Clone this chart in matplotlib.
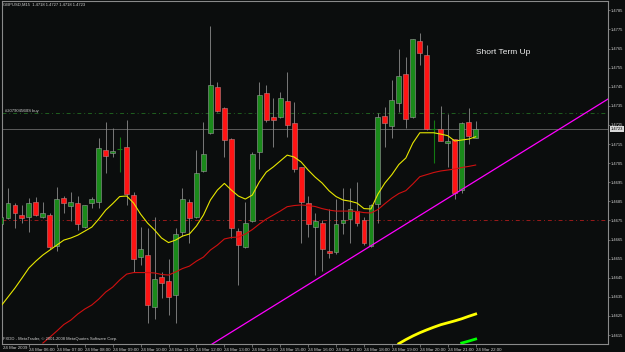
import matplotlib
matplotlib.use("Agg")
import matplotlib.pyplot as plt
import numpy as np

plt.rcParams["font.family"] = ["Liberation Sans", "DejaVu Sans"]

# GBPUSD M15, 24 Mar 2009, bars from 05:00 to 22:00
opens = [1.46731, 1.46761, 1.46831, 1.46778, 1.46769, 1.46848, 1.46766, 1.46778, 1.46616, 1.46869,
         1.46827, 1.46839, 1.46717, 1.46839, 1.46848, 1.47119, 1.47101, 1.47122, 1.47136, 1.46881,
         1.46560, 1.46569, 1.46298, 1.46454, 1.46433, 1.46359, 1.46688, 1.46848, 1.46769, 1.47007,
         1.47209, 1.47447, 1.47337, 1.47178, 1.46696, 1.46609, 1.46748, 1.47108, 1.47415, 1.47290,
         1.47290, 1.47377, 1.47258, 1.47028, 1.46839, 1.46717, 1.46738, 1.46591, 1.46586, 1.46738,
         1.46757, 1.46799, 1.46752, 1.46617, 1.46836, 1.47297, 1.47244, 1.47366, 1.47516, 1.47290,
         1.47691, 1.47616, 1.47229, 1.47227, 1.47157, 1.47175, 1.46909, 1.47267, 1.4718]
highs = [1.46789, 1.46918, 1.46839, 1.46831, 1.46866, 1.46871, 1.46848, 1.46789, 1.46926, 1.46878,
         1.46900, 1.46878, 1.46831, 1.46874, 1.47180, 1.47267, 1.47232, 1.47188, 1.47278, 1.46900,
         1.46717, 1.46709, 1.46769, 1.46481, 1.46546, 1.46709, 1.46918, 1.46860, 1.47119, 1.47267,
         1.47768, 1.47476, 1.47345, 1.47183, 1.46709, 1.46848, 1.47110, 1.47476, 1.47459, 1.47389,
         1.47424, 1.47527, 1.47368, 1.47031, 1.46878, 1.46787, 1.46752, 1.46808, 1.46860, 1.46918,
         1.46918, 1.46953, 1.46769, 1.46836, 1.47311, 1.47345, 1.47485, 1.47646, 1.47607, 1.47702,
         1.47730, 1.47668, 1.47278, 1.47349, 1.47307, 1.47176, 1.47265, 1.47337, 1.4727]
lows = [1.46721, 1.46757, 1.46709, 1.46738, 1.46691, 1.46773, 1.46762, 1.46599, 1.46591, 1.46790,
        1.46747, 1.46700, 1.46710, 1.46813, 1.46813, 1.47000, 1.47082, 1.47005, 1.46831, 1.46481,
        1.46516, 1.46211, 1.46234, 1.46342, 1.46255, 1.46211, 1.46668, 1.46630, 1.46762, 1.47003,
        1.47202, 1.47317, 1.47080, 1.46656, 1.46412, 1.46605, 1.46742, 1.47017, 1.47265, 1.47136,
        1.47286, 1.47188, 1.47003, 1.46630, 1.46663, 1.46464, 1.46487, 1.46551, 1.46574, 1.46679,
        1.46630, 1.46721, 1.46621, 1.46611, 1.46738, 1.47136, 1.47180, 1.47319, 1.47232, 1.47286,
        1.47564, 1.47223, 1.47049, 1.47166, 1.47031, 1.46860, 1.46892, 1.47150, 1.4718]
closes = [1.46768, 1.46839, 1.46787, 1.46761, 1.46839, 1.46778, 1.46790, 1.46609, 1.46860, 1.46839,
          1.46848, 1.46729, 1.46831, 1.46862, 1.47127, 1.47087, 1.47112, 1.47122, 1.46888, 1.46548,
          1.46599, 1.46307, 1.46442, 1.46421, 1.46350, 1.46679, 1.46860, 1.46761, 1.46997, 1.47098,
          1.47457, 1.47324, 1.47171, 1.46709, 1.46620, 1.46738, 1.47096, 1.47407, 1.47276, 1.47276,
          1.47389, 1.47248, 1.47017, 1.46848, 1.46731, 1.46748, 1.46599, 1.46578, 1.46731, 1.46752,
          1.46808, 1.46738, 1.46630, 1.46831, 1.47290, 1.47258, 1.47380, 1.47506, 1.47279, 1.47698,
          1.47625, 1.47227, 1.47229, 1.47167, 1.47166, 1.46895, 1.47258, 1.47192, 1.4723]

# moving averages as drawn on the chart
ma_fast = [1.46302, 1.46349, 1.46396, 1.46448, 1.46501, 1.46537, 1.46569, 1.46595, 1.46621, 1.46647,
           1.46658, 1.46673, 1.46694, 1.46715, 1.46757, 1.46804, 1.46838, 1.46875, 1.46878, 1.46841,
           1.46783, 1.46736, 1.46700, 1.46658, 1.46634, 1.46647, 1.46668, 1.46679, 1.46721, 1.46778,
           1.46857, 1.46909, 1.46944, 1.46909, 1.46878, 1.46862, 1.46883, 1.46951, 1.47003, 1.47030,
           1.47061, 1.47092, 1.47082, 1.47056, 1.47014, 1.46977, 1.46946, 1.46905, 1.46875, 1.46857,
           1.46851, 1.46841, 1.46812, 1.46810, 1.46888, 1.46946, 1.46990, 1.47043, 1.47077, 1.47155,
           1.47209, 1.47209, 1.47209, 1.47202, 1.47194, 1.47166, 1.47171, 1.47176, 1.47188]
ma_slow_start = 6
ma_slow = [1.46108, 1.46139, 1.46171, 1.46205, 1.46228, 1.46260, 1.46286, 1.46307, 1.46338, 1.46375,
           1.46401, 1.46438, 1.46469, 1.46477, 1.46477, 1.46477, 1.46475, 1.46467, 1.46464, 1.46480,
           1.46498, 1.46511, 1.46537, 1.46558, 1.46595, 1.46621, 1.46653, 1.46661, 1.46663, 1.46679,
           1.46702, 1.46731, 1.46757, 1.46778, 1.46799, 1.46822, 1.46828, 1.46831, 1.46828, 1.46823,
           1.46812, 1.46804, 1.46799, 1.46799, 1.46799, 1.46797, 1.46791, 1.46789, 1.46807, 1.46838,
           1.46867, 1.46891, 1.46906, 1.46941, 1.46979, 1.46990, 1.47001, 1.47009, 1.47014, 1.47019,
           1.47027, 1.47033, 1.47040]
ma_long_start = 57
ma_long = [1.46105, 1.46126, 1.46145, 1.46162, 1.46177, 1.46191, 1.46204, 1.46214, 1.46224, 1.46235,
           1.46248, 1.46260]
ma_green_start = 66
ma_green = [1.46108, 1.46118, 1.46129]

trend_bars = [31, 65]
trend_prices = [1.46120, 1.46889]
order_price = 1.4731
stop_price = 1.4675
bid_price = 1.4723

price_ticks = [1.4785, 1.4775, 1.4765, 1.4755, 1.4745, 1.4735, 1.4725, 1.4715, 1.4705,
               1.4695, 1.4685, 1.4675, 1.4665, 1.4655, 1.4645, 1.4635, 1.4625, 1.4615]
time_ticks = [0, 4, 8, 12, 16, 20, 24, 28, 32, 36, 40, 44, 48, 52, 56, 60, 64, 68]
time_labels = ["24 Mar 2009", "24 Mar 06:00", "24 Mar 07:00", "24 Mar 08:00", "24 Mar 09:00",
               "24 Mar 10:00", "24 Mar 11:00", "24 Mar 12:00", "24 Mar 13:00", "24 Mar 14:00",
               "24 Mar 15:00", "24 Mar 16:00", "24 Mar 17:00", "24 Mar 18:00", "24 Mar 19:00",
               "24 Mar 20:00", "24 Mar 21:00", "24 Mar 22:00"]

bg = "#0b0d0d"
fg = "#d0d0d0"
W, H = 625, 352

fig = plt.figure(figsize=(W / 100, H / 100), dpi=100, facecolor=bg)
ax = fig.add_axes([2 / W, 8 / H, 606 / W, 343 / H], facecolor=bg)

o = np.array(opens)
c = np.array(closes)
x = np.arange(len(o))
up = c > o
down = c < o
doji = c == o

# wicks
ax.vlines(x[~doji], np.array(lows)[~doji], np.array(highs)[~doji], color="#8a8a8a", lw=0.6, zorder=3)
ax.vlines(x[doji], np.array(lows)[doji], np.array(highs)[doji], color="#127a12", lw=0.8, zorder=3)
ax.hlines(o[doji], x[doji] - 0.35, x[doji] + 0.35, color="#127a12", lw=0.8, zorder=3)

# bodies
ax.bar(x[up], (c - o)[up], bottom=o[up], width=0.7, color="#1a8a1a",
       edgecolor="#9a9a9a", linewidth=0.4, zorder=4)
ax.bar(x[down], (o - c)[down], bottom=c[down], width=0.7, color="#ff1414",
       edgecolor="#c08080", linewidth=0.4, zorder=4)

# moving averages
ax.plot(x, ma_fast, color="#e8e800", lw=0.8, zorder=5)
ax.plot(np.arange(ma_slow_start, ma_slow_start + len(ma_slow)), ma_slow, color="#d01010", lw=0.8, zorder=5)
ax.plot(np.arange(ma_long_start, ma_long_start + len(ma_long)), ma_long, color="#ffff00", lw=2.0, zorder=5)
ax.plot(np.arange(ma_green_start, ma_green_start + len(ma_green)), ma_green, color="#00ff00", lw=2.0, zorder=5)

# trend line (ray)
ax.axline((trend_bars[0], trend_prices[0]), (trend_bars[1], trend_prices[1]), color="#ff00ff", lw=0.9, zorder=6)

# order / stop / bid lines
ax.axhline(order_price, color="#1f5f1f", lw=0.7, ls=(0, (4, 3, 1, 3)), zorder=2)
ax.axhline(stop_price, color="#9a1a1a", lw=0.7, ls=(0, (4, 3, 1, 3)), zorder=2)
ax.axhline(bid_price, color="#5c5c5c", lw=0.7, zorder=2)
ax.text(0.6, order_price + 0.00003, "#20790456BS buy", color=fg, fontsize=3, va="bottom", zorder=7)

ax.set_xlim(0.143, 86.96)
ax.set_ylim(1.46103, 1.47899)

for s in ax.spines.values():
    s.set_color("#8a8a8a")
    s.set_linewidth(0.8)

ax.yaxis.tick_right()
ax.set_yticks(price_ticks)
ax.set_yticklabels([f"{p:.4f}" for p in price_ticks])
ax.tick_params(axis="y", colors="#8a8a8a", labelcolor=fg, labelsize=3.0, length=1.5, width=0.5, pad=0.8)

ax.set_xticks(time_ticks[1:])
ax.set_xticklabels(time_labels[1:], ha="left")
ax.tick_params(axis="x", colors="#8a8a8a", labelcolor=fg, labelsize=3.2, length=2, width=0.5, pad=0.8)
fig.text(3 / W, 1 - 348 / H, time_labels[0], color=fg, fontsize=3.2, va="center", ha="left")

# current price box on the scale
ax.text(1.004, bid_price, f"{bid_price:.4f}", transform=ax.get_yaxis_transform(),
        color="#000000", fontsize=3.0, va="center", ha="left",
        bbox=dict(facecolor="#d8d8d8", edgecolor="none", pad=0.6), zorder=8, clip_on=False)

fig.text(3 / W, 1 - 4.5 / H, "GBPUSD,M15  1.4718 1.4727 1.4718 1.4723", color=fg, fontsize=3, va="center")
fig.text(3 / W, 1 - 339 / H, "FXDD - MetaTrader, \u00a9 2001-2008 MetaQuotes Software Corp.",
         color=fg, fontsize=3, va="center")
fig.text(503.5 / W, 1 - 52 / H, "Short Term Up", color="#f0f0f0", fontsize=6, ha="center", va="center")

fig.savefig("out.png", dpi=100, facecolor=bg)
